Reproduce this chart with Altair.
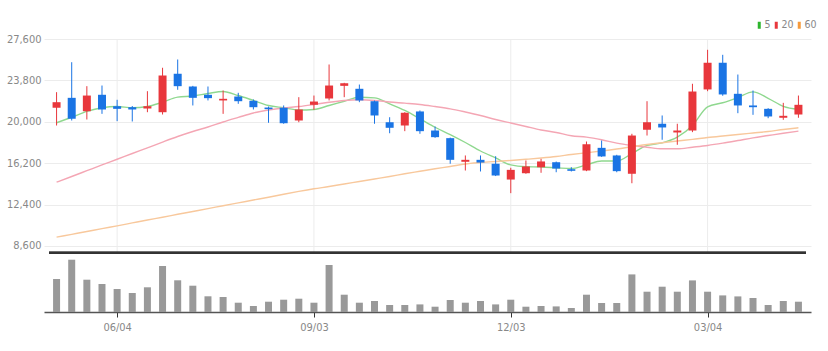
import altair as alt
import pandas as pd

# ---------------- data (weekly candles) ----------------
idx = list(range(50))
opens = [21290, 22200, 20970, 22480, 21430, 21340, 21220, 20880, 24410, 23240,
         22480, 21960, 22320, 21930, 21310, 21290, 20120, 21560, 22140, 23300,
         23030, 21890, 19960, 19660, 20950, 19200, 18500, 16330, 16510, 16150,
         14700, 15280, 15830, 16290, 15650, 15530, 17610, 16910, 15230, 19270,
         19820, 19020, 19200, 22970, 25420, 22570, 21500, 21190, 20370, 20670]
highs = [22720, 25470, 23270, 23330, 22020, 21450, 22810, 24960, 25720, 23300,
         23240, 22870, 22660, 22050, 21400, 21500, 22260, 22410, 25260, 23580,
         23420, 21950, 20420, 20880, 21040, 19570, 18550, 16910, 16910, 16840,
         15780, 16450, 16600, 16350, 15830, 18190, 18280, 16970, 18900, 21890,
         20580, 19820, 23490, 26610, 26150, 24340, 22870, 21250, 21740, 22410]
lows = [19660, 20120, 20210, 20730, 20060, 20030, 20880, 20670, 22940, 21500,
        21960, 20730, 21650, 21130, 19910, 19820, 19960, 21100, 21960, 22260,
        21800, 19820, 18950, 19140, 18900, 18530, 16150, 15530, 15440, 15020,
        13450, 15230, 15320, 15370, 15440, 15470, 16780, 15370, 14360, 18740,
        18350, 17890, 19050, 22810, 22390, 20790, 20640, 20330, 20180, 20370]
closes = [21800, 20280, 22410, 21130, 21190, 21130, 21430, 24250, 23270, 22200,
          22170, 22110, 21890, 21340, 21160, 19870, 21130, 21860, 23330, 23540,
          21960, 20580, 19450, 20830, 19140, 18590, 16510, 16510, 16260, 15070,
          15590, 15900, 16360, 15710, 15500, 17940, 16820, 15470, 18740, 19960,
          19480, 19200, 22780, 25420, 22510, 21500, 21340, 20490, 20550, 21560]
volumes = [330, 523, 323, 280, 230, 190, 247, 460, 317, 263,
           157, 150, 93, 60, 103, 123, 133, 93, 470, 173,
           93, 110, 70, 70, 76, 53, 120, 93, 110, 76,
           123, 53, 60, 56, 40, 173, 90, 90, 376, 203,
           253, 203, 316, 203, 166, 156, 140, 70, 110, 103]
ma5 = [19910, 20420, 20950, 21290, 21400, 21290, 21400, 21800, 22260, 22370,
       22600, 22780, 22410, 21960, 21500, 21290, 21080, 21130, 21500, 21890,
       22260, 22200, 21650, 21040, 20280, 19500, 18830, 18100, 17320, 16680,
       16040, 15870, 15850, 15780, 15710, 16050, 16400, 16400, 17090, 17830,
       18070, 18590, 19660, 21380, 21750, 22230, 22750, 22160, 21420, 21150]
ma20 = [14460, 14980, 15510, 16040, 16560, 17090, 17610, 18140, 18650, 19110,
        19520, 19980, 20400, 20810, 21080, 21270, 21400, 21590, 21800, 21960,
        22020, 21960, 21820, 21710, 21590, 21400, 21190, 20900, 20580, 20210,
        19890, 19570, 19250, 19020, 18720, 18590, 18350, 18040, 17830, 17670,
        17520, 17520, 17670, 17830, 18040, 18280, 18530, 18740, 18950, 19140]
ma60 = [9410, 9670, 9930, 10200, 10450, 10720, 10990, 11240, 11510, 11770,
        12030, 12300, 12560, 12820, 13080, 13350, 13610, 13850, 14060, 14290,
        14520, 14750, 14980, 15230, 15460, 15690, 15900, 16130, 16260, 16360,
        16450, 16560, 16680, 16820, 17000, 17160, 17320, 17500, 17710, 17920,
        18080, 18240, 18390, 18560, 18700, 18830, 18970, 19110, 19290, 19450]

y_ticks = [8600, 12400, 16200, 20000, 23800, 27600]
x_tick_idx = [4, 17, 30, 43]
x_tick_labels = ["06/04", "09/03", "12/03", "03/04"]
ma_names = ["5", "20", "60"]

RED = "#e8373c"
BLUE = "#1a74e4"
MA_COLORS = ["#2db52d", "#e8373c", "#f59a3c"]
MA_LINE_COLORS = ["#8fd88f", "#f4a6b4", "#f8c89c"]
FONT = "'Liberation Sans Narrow', 'DejaVu Sans Condensed', Lato, sans-serif"

# ---------------- tables ----------------
candles = pd.DataFrame({"i": idx, "open": opens, "high": highs, "low": lows,
                        "close": closes, "vol": volumes})
candles["dir"] = ["up" if c >= o else "down" for o, c in zip(opens, closes)]

ma_long = pd.concat([
    pd.DataFrame({"i": idx, "v": vals, "s": name})
    for name, vals in zip(ma_names, [ma5, ma20, ma60])
], ignore_index=True)

grid_df = pd.DataFrame({"g": x_tick_idx})
legend_df = pd.DataFrame({"s": ma_names})

# ---------------- scales / axes ----------------
P_DOM = [7985, 31180]
P_RANGE = [252.7, 0]
V_DOM = [0, 593]
V_RANGE = [312, 252.7]

def pscale():
    return alt.Scale(domain=P_DOM, range=P_RANGE, nice=False, zero=False)

def vscale():
    return alt.Scale(domain=V_DOM, range=V_RANGE, nice=False)

label_expr = "''"
for k, lab in zip(reversed(x_tick_idx), reversed(x_tick_labels)):
    label_expr = f"datum.value == {k} ? '{lab}' : ({label_expr})"

X_AXIS = alt.Axis(values=x_tick_idx, labelExpr=label_expr, grid=False,
                  domainColor="#555", domainWidth=1.5, tickColor="#333",
                  tickSize=5, tickWidth=1, labelPadding=4, labelColor="#888",
                  labelFontSize=11, labelFont=FONT, title=None)
XS = alt.Scale(domain=[-0.5, 49.5], nice=False, zero=False)

def X(field):
    return alt.X(field, type="quantitative", scale=XS, axis=X_AXIS)

color_dir = alt.Color("dir:N", scale=alt.Scale(domain=["up", "down"], range=[RED, BLUE]),
                      legend=None)

# ---------------- layers ----------------
vgrid = alt.Chart(grid_df).mark_rule(color="#ececec", strokeWidth=1).encode(
    x=X("g"),
    y=alt.YDatum(27600, type="quantitative", scale=pscale(), axis=None),
    y2=alt.Y2Datum(P_DOM[0]),
)

ma_lines = alt.Chart(ma_long).mark_line(strokeWidth=1.4, interpolate="monotone").encode(
    x=X("i"),
    y=alt.Y("v:Q", scale=pscale(), axis=None),
    color=alt.Color("s:N", scale=alt.Scale(domain=ma_names, range=MA_LINE_COLORS),
                    legend=None),
    detail="s:N",
)

# legend drawn with an invisible point layer (so its symbols are filled, saturated)
legend_layer = alt.Chart(legend_df).mark_point(opacity=0, filled=True).encode(
    x=alt.XDatum(0, type="quantitative", scale=XS, axis=X_AXIS),
    y=alt.YDatum(20000, type="quantitative", scale=pscale(), axis=None),
    fill=alt.Fill("s:N", scale=alt.Scale(domain=ma_names, range=MA_COLORS),
                  legend=alt.Legend(orient="none", legendX=710, legendY=20,
                                    direction="horizontal", title=None,
                                    symbolType="M-0.43,-1L0.43,-1L0.43,1L-0.43,1Z",
                                    symbolSize=49, symbolOpacity=1,
                                    symbolStrokeWidth=0,
                                    labelFontSize=10.5, labelColor="#888",
                                    labelFont=FONT, labelOffset=0,
                                    gridAlign="none", columnPadding=0,
                                    padding=0)),
)

wicks = alt.Chart(candles).mark_rule(strokeWidth=1).encode(
    x=X("i"),
    y=alt.Y("low:Q", scale=pscale(), axis=None),
    y2="high:Q",
    color=color_dir,
)

bodies = alt.Chart(candles).mark_bar(size=8).encode(
    x=X("i"),
    y=alt.Y("open:Q", scale=pscale(),
            axis=alt.Axis(values=y_ticks, labelExpr="format(datum.value, ',')",
                          grid=True, gridColor="#ececec",
                          domain=False, ticks=False, labelPadding=3,
                          labelColor="#888", labelFontSize=11, labelFont=FONT,
                          title=None)),
    y2="close:Q",
    color=color_dir,
)

vol_bars = alt.Chart(candles).mark_bar(size=7, color="#999999").encode(
    x=X("i"),
    y=alt.Y("vol:Q", scale=vscale(), axis=None),
)

separator = alt.Chart(grid_df).mark_rule(color="#333", strokeWidth=2).encode(
    x=alt.XDatum(-0.5, type="quantitative", scale=XS, axis=X_AXIS),
    x2=alt.X2Datum(49.5),
    y=alt.YDatum(P_DOM[0], type="quantitative", scale=pscale(), axis=None),
)

chart = alt.layer(vgrid, ma_lines, legend_layer, wicks, bodies, vol_bars, separator).resolve_scale(
    y="independent", color="independent", fill="independent"
).properties(
    width=767, height=312,
    autosize=alt.AutoSizeParams(type="none"),
    padding={"left": 44, "top": 0, "right": 17, "bottom": 39},
    background="white",
).configure_view(stroke=None)

chart.save("out.html", embed_options={"renderer": "svg", "actions": False})
